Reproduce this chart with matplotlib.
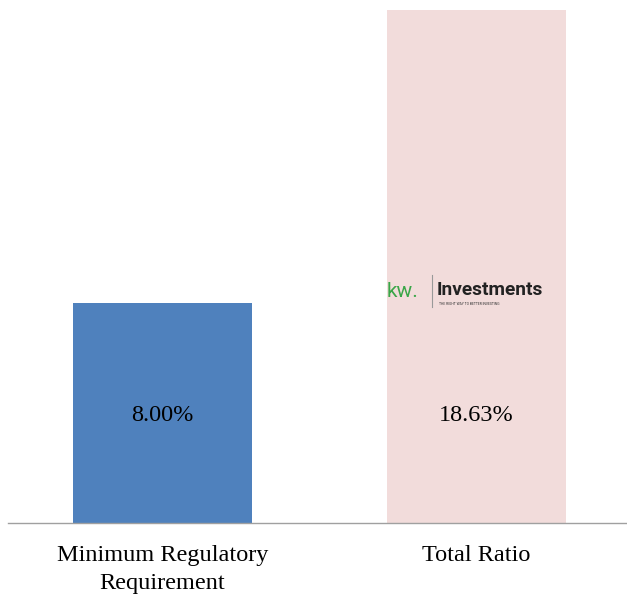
import matplotlib.pyplot as plt

categories = ['Minimum Regulatory\nRequirement', 'Total Ratio']
values = [8.00, 18.63]
labels = ['8.00%', '18.63%']
colors = ['#4F81BD', '#F2DCDB']

fig = plt.figure(figsize=(6.27, 5.95), dpi=100, facecolor='white')
ax = fig.add_axes([8 / 627, 72 / 595, 619 / 627, 523 / 595])

x = [0, 1]
ax.bar(x, values, width=0.57, color=colors)
ax.set_xlim(-0.492, 1.48)
ax.set_ylim(0, 19.0)

# value labels, centred at half of the smaller bar
for xi, lab in zip(x, labels):
    ax.text(xi, 3.92, lab, ha='center', va='center', fontsize=17.5,
            family='Liberation Serif', color='black')

# logo on the second bar
ax.text(0.715, 8.4, 'kw.', ha='left', va='center', fontsize=15,
        family='Roboto', color='#3AA648')
ax.plot([0.86, 0.86], [7.85, 9.0], color='#999999', lw=0.8)
ax.text(0.875, 8.45, 'Investments', ha='left', va='center', fontsize=13.8,
        family='Roboto', fontweight='bold', color='#222222')
ax.text(0.88, 7.95, 'THE RIGHT WAY TO BETTER INVESTING', ha='left', va='center',
        fontsize=2.4, family='Roboto', color='#333333')

ax.set_xticks(x)
ax.set_xticklabels(categories, fontsize=17.5, family='Liberation Serif',
                   linespacing=1.4)
ax.tick_params(axis='x', length=0, pad=16)
ax.set_yticks([])

for s in ['top', 'right', 'left']:
    ax.spines[s].set_visible(False)
ax.spines['bottom'].set_color('#A0A0A0')
ax.spines['bottom'].set_linewidth(1.0)

fig.savefig('out.png', dpi=100, facecolor='white')
